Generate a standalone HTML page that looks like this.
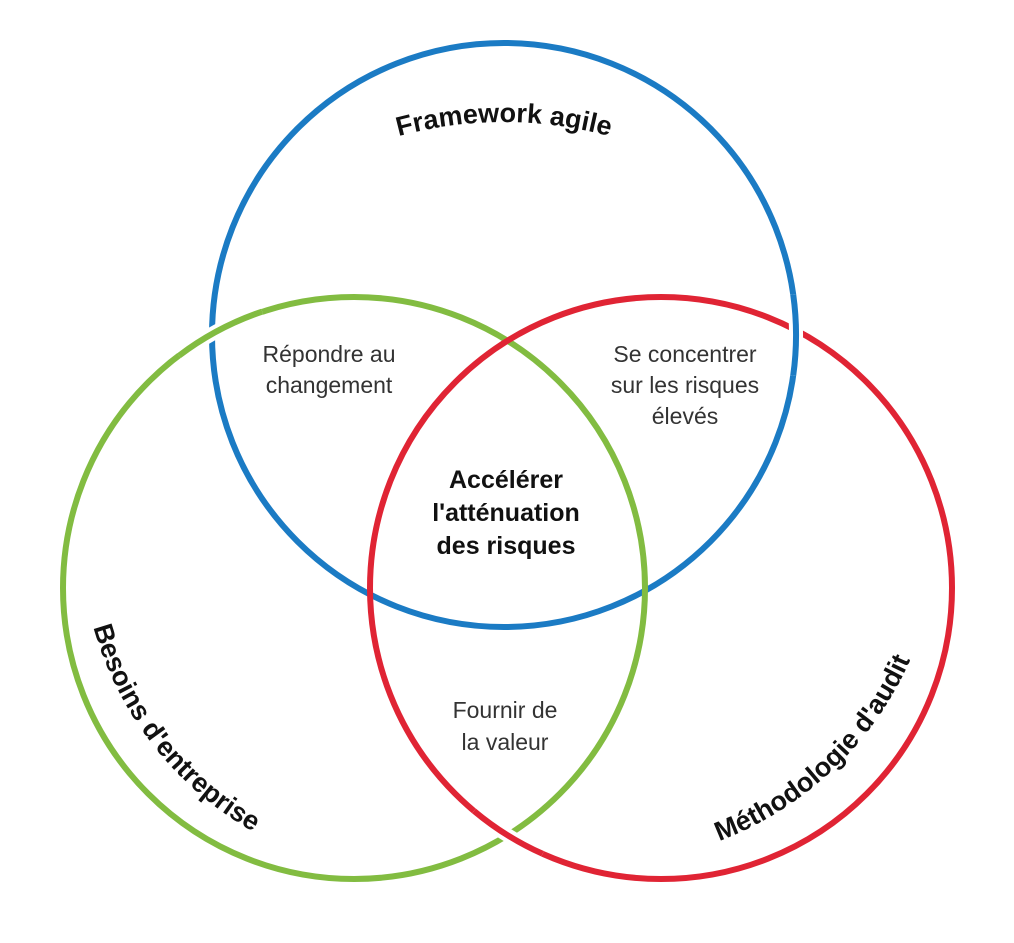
<!DOCTYPE html>
<html><head><meta charset="utf-8"><style>
html,body{margin:0;padding:0;background:#fff;}
svg{display:block}
</style></head><body>
<svg width="1014" height="943" viewBox="0 0 1014 943" xmlns="http://www.w3.org/2000/svg">
<defs>
<path id="pb" d="M335,159.5 A400,400 0 0 1 673,159.5"/>
<path id="pg" d="M84.3,583.3 A340,340 0 0 0 293.6,851.2"/>
<path id="pr" d="M678.4,853.6 A340,340 0 0 0 925,619.6"/>
</defs>
<g fill="none" stroke-width="6">
<circle cx="504" cy="335" r="292" stroke="#1b7bc4"/>
<circle cx="354" cy="588" r="291" stroke="#82bc41"/>
<circle cx="661" cy="588" r="291" stroke="#e02434"/>
<path d="M179.1,355.6 A291,291 0 0 1 262.2,311.6" stroke="#fff" stroke-width="14"/>
<path d="M179.1,355.6 A291,291 0 0 1 262.2,311.6" stroke="#82bc41"/>
<path d="M793.2,294.4 A292,292 0 0 1 793.2,375.6" stroke="#fff" stroke-width="14"/>
<path d="M793.2,294.4 A292,292 0 0 1 793.2,375.6" stroke="#1b7bc4"/>
<path d="M542.6,853.8 A291,291 0 0 1 474.0,810.9" stroke="#fff" stroke-width="14"/>
<path d="M542.6,853.8 A291,291 0 0 1 474.0,810.9" stroke="#e02434"/>
</g>
<g font-family="Liberation Sans, sans-serif" font-weight="bold" font-size="27" fill="#111">
<text><textPath href="#pb" startOffset="50%" text-anchor="middle">Framework agile</textPath></text>
<text><textPath href="#pg" startOffset="50%" text-anchor="middle">Besoins d'entreprise</textPath></text>
<text><textPath href="#pr" startOffset="50%" text-anchor="middle">Méthodologie d'audit</textPath></text>
</g>
<g font-family="Liberation Sans, sans-serif" font-weight="bold" font-size="25" fill="#111" text-anchor="middle">
<text x="506" y="488">Accélérer</text>
<text x="506" y="521">l'atténuation</text>
<text x="506" y="554">des risques</text>
</g>
<g font-family="Liberation Sans, sans-serif" font-size="23" fill="#333" text-anchor="middle">
<text x="329" y="362">Répondre au</text>
<text x="329" y="393">changement</text>
<text x="685" y="362">Se concentrer</text>
<text x="685" y="393">sur les risques</text>
<text x="685" y="424">élevés</text>
<text x="505" y="718">Fournir de</text>
<text x="505" y="750">la valeur</text>
</g>
</svg>
</body></html>
